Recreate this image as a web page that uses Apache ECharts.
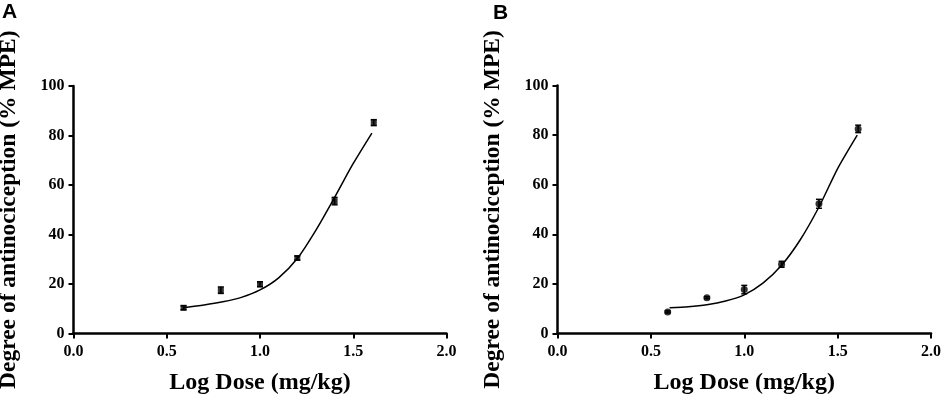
<!DOCTYPE html>
<html>
<head>
<meta charset="utf-8">
<script src="https://cdn.jsdelivr.net/npm/echarts@6/dist/echarts.min.js"></script>
<style>
html,body{margin:0;padding:0;background:#fff;}
#chart{width:943px;height:397px;}
</style>
</head>
<body>
<div id="chart"></div>
<script>
// Panel A: measured points (log dose, mean %MPE, SEM)
var doseA = [0.59, 0.79, 1.00, 1.20, 1.40, 1.61];
var meanA = [10.4, 17.5, 19.9, 30.5, 53.5, 85.2];
var semA  = [0.8, 1.3, 1.0, 0.8, 1.5, 1.2];
// Panel A: fitted curve
var curveXA = [0.59, 0.7, 0.8, 0.9, 1.0, 1.1, 1.2, 1.3, 1.4, 1.5, 1.6];
var curveYA = [10.4, 11.5, 12.8, 14.6, 17.6, 22.5, 30.3, 41.8, 55.0, 68.7, 81.0];

// Panel B
var doseB = [0.59, 0.80, 1.00, 1.20, 1.40, 1.61];
var meanB = [8.7, 14.4, 17.7, 27.9, 52.3, 82.5];
var semB  = [0.4, 0.4, 1.7, 1.2, 1.8, 1.5];
var curveXB = [0.6, 0.7, 0.8, 0.9, 1.0, 1.1, 1.2, 1.3, 1.4, 1.5, 1.605];
var curveYB = [10.4, 10.8, 11.6, 13.1, 15.6, 20.3, 27.5, 37.8, 51.0, 66.5, 80.0];

var xTicks = [0, 0.5, 1.0, 1.5, 2.0];
var yTicks = [0, 20, 40, 60, 80, 100];

var serif = '"Liberation Serif", "DejaVu Serif", serif';
var chart = echarts.init(document.getElementById('chart'));

function zip(a, b) { return a.map(function (v, i) { return [v, b[i]]; }); }
function errData(x, m, s) { return x.map(function (v, i) { return [v, m[i] - s[i], m[i] + s[i]]; }); }

function errRender(params, api) {
  var x = api.value(0);
  var lo = api.coord([x, api.value(1)]);
  var hi = api.coord([x, api.value(2)]);
  var w = 3;
  var st = { stroke: '#000', lineWidth: 1.5 };
  return {
    type: 'group',
    children: [
      { type: 'line', shape: { x1: lo[0], y1: lo[1], x2: hi[0], y2: hi[1] }, style: st },
      { type: 'line', shape: { x1: lo[0] - w, y1: lo[1], x2: lo[0] + w, y2: lo[1] }, style: st },
      { type: 'line', shape: { x1: hi[0] - w, y1: hi[1], x2: hi[0] + w, y2: hi[1] }, style: st }
    ]
  };
}

function xAxis(idx) {
  return {
    type: 'value', gridIndex: idx, min: 0, max: 2, interval: 0.5,
    name: 'Log Dose (mg/kg)', nameLocation: 'middle', nameGap: 37,
    nameTextStyle: { fontFamily: serif, fontWeight: 'bold', fontSize: 24, color: '#000' },
    axisLine: { lineStyle: { color: '#000', width: 2.5 } },
    axisTick: { show: true, length: 5, lineStyle: { color: '#000', width: 2 } },
    axisLabel: { margin: 10, fontFamily: serif, fontWeight: 'bold', fontSize: 16, color: '#000',
      formatter: function (v) { return v.toFixed(1); } },
    splitLine: { show: false }
  };
}
function yAxis(idx) {
  return {
    type: 'value', gridIndex: idx, min: 0, max: 100, interval: 20,
    name: 'Degree of antinociception (% MPE)', nameLocation: 'middle', nameGap: 53, nameRotate: 90,
    nameTextStyle: { fontFamily: serif, fontWeight: 'bold', fontSize: 23.5, color: '#000' },
    axisLine: { show: true, lineStyle: { color: '#000', width: 2.5 } },
    axisTick: { show: true, length: 5, lineStyle: { color: '#000', width: 2 } },
    axisLabel: { margin: 9, fontFamily: serif, fontWeight: 'bold', fontSize: 16, color: '#000' },
    splitLine: { show: false }
  };
}

var option = {
  animation: false,
  backgroundColor: '#fff',
  title: [
    { text: 'A', left: 2, top: 2, padding: 0, textStyle: { fontFamily: '"Liberation Sans", Arial, sans-serif', fontWeight: 'bold', fontSize: 21, color: '#000' } },
    { text: 'B', left: 493, top: 3, padding: 0, textStyle: { fontFamily: '"Liberation Sans", Arial, sans-serif', fontWeight: 'bold', fontSize: 21, color: '#000' } }
  ],
  grid: [
    { left: 73.5, top: 86, width: 373, height: 247.5, containLabel: false, outerBoundsMode: 'none' },
    { left: 557.5, top: 85.5, width: 373.5, height: 248, containLabel: false, outerBoundsMode: 'none' }
  ],
  xAxis: [xAxis(0), xAxis(1)],
  yAxis: [yAxis(0), yAxis(1)],
  series: [
    { type: 'line', xAxisIndex: 0, yAxisIndex: 0, data: zip(curveXA, curveYA), smooth: 0.25,
      showSymbol: false, lineStyle: { color: '#000', width: 1.5 } },
    { type: 'custom', xAxisIndex: 0, yAxisIndex: 0, data: errData(doseA, meanA, semA), renderItem: errRender },
    { type: 'scatter', xAxisIndex: 0, yAxisIndex: 0, data: zip(doseA, meanA), symbol: 'rect', symbolSize: 6,
      itemStyle: { color: '#000' } },
    { type: 'line', xAxisIndex: 1, yAxisIndex: 1, data: zip(curveXB, curveYB), smooth: 0.25,
      showSymbol: false, lineStyle: { color: '#000', width: 1.5 } },
    { type: 'custom', xAxisIndex: 1, yAxisIndex: 1, data: errData(doseB, meanB, semB), renderItem: errRender },
    { type: 'scatter', xAxisIndex: 1, yAxisIndex: 1, data: zip(doseB, meanB), symbol: 'circle', symbolSize: 7,
      itemStyle: { color: '#000' } }
  ]
};
chart.setOption(option);
</script>
</body>
</html>
